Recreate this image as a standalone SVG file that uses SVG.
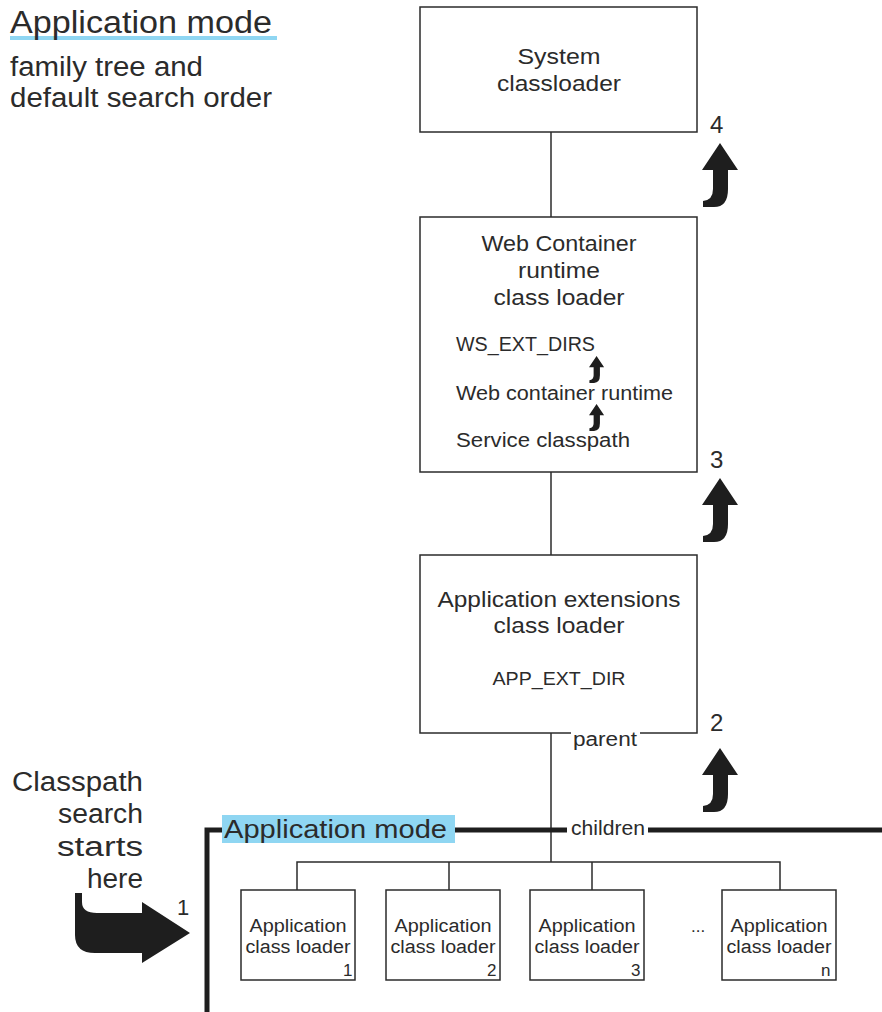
<svg xmlns="http://www.w3.org/2000/svg" width="882" height="1012" viewBox="0 0 882 1012">
  <style>
    text { font-family: "Liberation Sans", Arial, sans-serif; fill: #2b2b2b; }
    .box { fill: #fff; stroke: #2b2b2b; stroke-width: 1.5; }
    .thin { fill: none; stroke: #2b2b2b; stroke-width: 1.5; }
    .thick { fill: none; stroke: #1e1e1e; stroke-width: 5; }
    .big { font-size: 22px; text-anchor: middle; }
    .mid { font-size: 20px; }
    .small { font-size: 18px; text-anchor: middle; }
    .num { font-size: 24px; }
    .side { font-size: 27px; text-anchor: end; }
    .hl { fill: #8fd6f2; }
  </style>
  <defs>
    <!-- upward search arrow with a foot curling to the left -->
    <path id="upArrow" d="M18,0 L36,27 L26,27 L26,46 Q26,64 12,64 L1,64 L1,58 Q11,57 11,46 L11,27 L0,27 Z" fill="#1e1e1e"/>
  </defs>

  <!-- heading -->
  <g id="heading">
    <rect class="hl" x="10" y="36" width="267" height="4"/>
    <text x="10" y="33" style="font-size:31px" textLength="262" lengthAdjust="spacingAndGlyphs">Application mode</text>
    <text x="10" y="76" style="font-size:27px" textLength="193" lengthAdjust="spacingAndGlyphs">family tree and</text>
    <text x="10" y="107" style="font-size:27px" textLength="262" lengthAdjust="spacingAndGlyphs">default search order</text>
  </g>

  <!-- connectors -->
  <g id="connectors">
    <line class="thin" x1="551" y1="132" x2="551" y2="217"/>
    <line class="thin" x1="551" y1="472" x2="551" y2="555"/>
    <line class="thin" x1="551" y1="733" x2="551" y2="862"/>
    <polyline class="thin" points="297,890 297,862 780,862 780,890"/>
    <line class="thin" x1="449" y1="862" x2="449" y2="890"/>
    <line class="thin" x1="592" y1="862" x2="592" y2="890"/>
  </g>

  <g id="system">
    <rect class="box" x="420" y="7" width="277" height="125"/>
    <text class="big" x="559" y="64" textLength="83" lengthAdjust="spacingAndGlyphs">System</text>
    <text class="big" x="559" y="91" textLength="124" lengthAdjust="spacingAndGlyphs">classloader</text>
  </g>

  <g id="webcontainer">
    <rect class="box" x="420" y="217" width="277" height="255"/>
    <text class="big" x="559" y="251" textLength="155" lengthAdjust="spacingAndGlyphs">Web Container</text>
    <text class="big" x="559" y="278" textLength="82" lengthAdjust="spacingAndGlyphs">runtime</text>
    <text class="big" x="559" y="305" textLength="131" lengthAdjust="spacingAndGlyphs">class loader</text>
    <text class="mid" x="456" y="351" textLength="139" lengthAdjust="spacingAndGlyphs">WS_EXT_DIRS</text>
    <text class="mid" x="456" y="400" textLength="217" lengthAdjust="spacingAndGlyphs">Web container runtime</text>
    <text class="mid" x="456" y="447" textLength="174" lengthAdjust="spacingAndGlyphs">Service classpath</text>
    <use href="#upArrow" transform="translate(589,356) scale(0.42)"/>
    <use href="#upArrow" transform="translate(589,404) scale(0.42)"/>
  </g>

  <g id="appext">
    <rect class="box" x="420" y="555" width="277" height="178"/>
    <text class="big" x="559" y="607" textLength="243" lengthAdjust="spacingAndGlyphs">Application extensions</text>
    <text class="big" x="559" y="633" textLength="131" lengthAdjust="spacingAndGlyphs">class loader</text>
    <text class="small" x="559" y="685" style="font-size:19px" textLength="133" lengthAdjust="spacingAndGlyphs">APP_EXT_DIR</text>
    <rect x="571" y="728" width="69" height="22" fill="#fff"/>
    <text x="573" y="746" style="font-size:20px" textLength="64" lengthAdjust="spacingAndGlyphs">parent</text>
  </g>

  <!-- search order numbers and arrows -->
  <g id="order">
    <text class="num" x="710" y="133">4</text>
    <use href="#upArrow" transform="translate(702,143)"/>
    <text class="num" x="710" y="468">3</text>
    <use href="#upArrow" transform="translate(702,478)"/>
    <text class="num" x="710" y="731">2</text>
    <use href="#upArrow" transform="translate(702,748)"/>
  </g>

  <!-- application mode frame -->
  <g id="appmode">
    <polyline class="thick" points="207,1012 207,830 222,830"/>
    <line class="thick" x1="455" y1="830" x2="567" y2="830"/>
    <line class="thick" x1="648" y1="830" x2="882" y2="830"/>
    <rect class="hl" x="222" y="815" width="233" height="28"/>
    <text x="224" y="838" style="font-size:26px" textLength="223" lengthAdjust="spacingAndGlyphs">Application mode</text>
    <text x="571" y="835" style="font-size:20px" textLength="74" lengthAdjust="spacingAndGlyphs">children</text>
  </g>

  <g id="start">
    <text class="side" x="143" y="791" textLength="131" lengthAdjust="spacingAndGlyphs">Classpath</text>
    <text class="side" x="143" y="823" textLength="85" lengthAdjust="spacingAndGlyphs">search</text>
    <text class="side" x="143" y="856" textLength="86" lengthAdjust="spacingAndGlyphs">starts</text>
    <text class="side" x="143" y="888" textLength="56" lengthAdjust="spacingAndGlyphs">here</text>
    <text x="177" y="915" style="font-size:22px">1</text>
    <path d="M75,893 L82,893 L82,902 Q82,913 97,913 L142,913 L142,902 L190,933 L142,963 L142,953 L95,953 Q75,953 75,935 Z" fill="#1e1e1e"/>
  </g>

  <g id="loader1">
    <rect class="box" x="241" y="890" width="114" height="90"/>
    <text class="small" x="298" y="932" textLength="97" lengthAdjust="spacingAndGlyphs">Application</text>
    <text class="small" x="298" y="953" textLength="105" lengthAdjust="spacingAndGlyphs">class loader</text>
    <text x="343" y="976" style="font-size:17px">1</text>
  </g>
  <g id="loader2">
    <rect class="box" x="386" y="890" width="114" height="90"/>
    <text class="small" x="443" y="932" textLength="97" lengthAdjust="spacingAndGlyphs">Application</text>
    <text class="small" x="443" y="953" textLength="105" lengthAdjust="spacingAndGlyphs">class loader</text>
    <text x="487" y="976" style="font-size:17px">2</text>
  </g>
  <g id="loader3">
    <rect class="box" x="530" y="890" width="114" height="90"/>
    <text class="small" x="587" y="932" textLength="97" lengthAdjust="spacingAndGlyphs">Application</text>
    <text class="small" x="587" y="953" textLength="105" lengthAdjust="spacingAndGlyphs">class loader</text>
    <text x="631" y="976" style="font-size:17px">3</text>
  </g>
  <text x="691" y="932" style="font-size:17px">...</text>
  <g id="loaderN">
    <rect class="box" x="722" y="890" width="114" height="90"/>
    <text class="small" x="779" y="932" textLength="97" lengthAdjust="spacingAndGlyphs">Application</text>
    <text class="small" x="779" y="953" textLength="105" lengthAdjust="spacingAndGlyphs">class loader</text>
    <text x="821" y="976" style="font-size:17px">n</text>
  </g>
</svg>
